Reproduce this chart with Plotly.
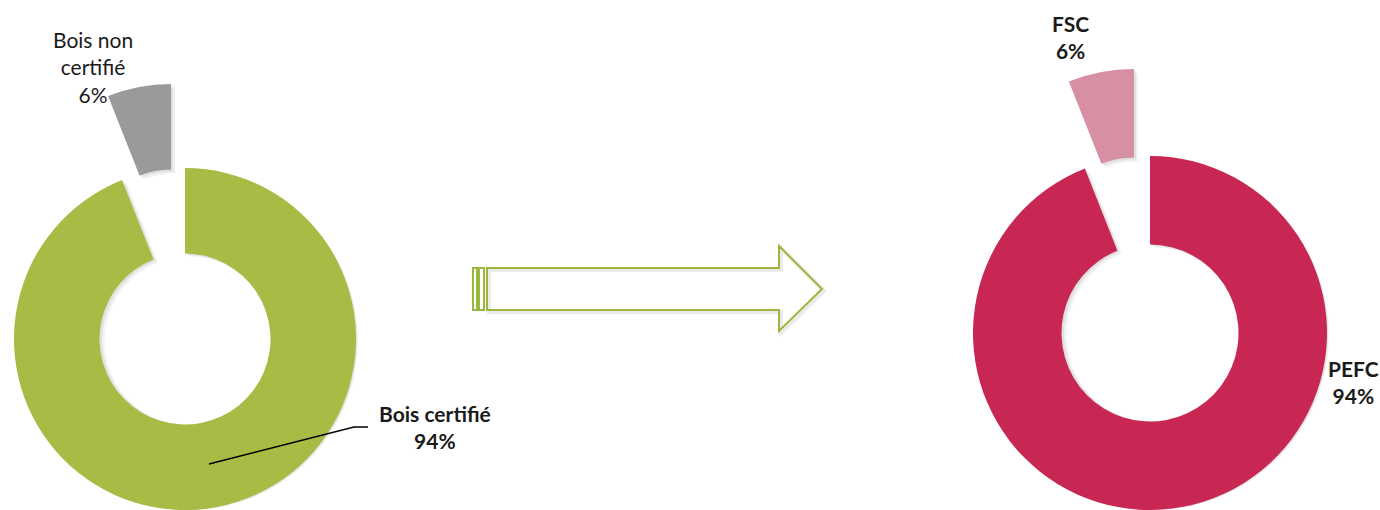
import plotly.graph_objects as go

# ---- data ----
left_labels = ["Bois certifié", "Bois non certifié"]
left_values = [94, 6]
left_colors = ["#A6BC44", "#9A9A9A"]

right_labels = ["PEFC", "FSC"]
right_values = [94, 6]
right_colors = ["#C82754", "#D68FA3"]

W, H = 1380, 510
TRANSP = "rgba(0,0,0,0)"


def dom(cx, cy, r):
    """pixel centre/radius -> paper domain"""
    x0 = max(0.0, (cx - r) / W)
    x1 = min(1.0, (cx + r) / W)
    y0 = max(0.0, 1 - (cy + r) / H)
    y1 = min(1.0, 1 - (cy - r) / H)
    return dict(x=[x0, x1], y=[y0, y1])


def donut(labels, values, colors, show, domain, name):
    cols = [c if i == show else TRANSP for i, c in enumerate(colors)]
    return go.Pie(
        labels=labels, values=values, marker=dict(colors=cols, line=dict(width=0)),
        hole=0.5, sort=False, direction="clockwise", rotation=0,
        textinfo="none", hoverinfo="label+percent", domain=domain,
        showlegend=False, name=name,
    )


def shadow(labels, values, show, domain, alpha):
    cols = ["rgba(0,0,0,%.2f)" % alpha if i == show else TRANSP for i in range(len(values))]
    return go.Pie(
        labels=labels, values=values, marker=dict(colors=cols, line=dict(width=0)),
        hole=0.5, sort=False, direction="clockwise", rotation=0,
        textinfo="none", hoverinfo="skip", domain=domain, showlegend=False,
    )


fig = go.Figure()
# left donut (soft shadow layers, then the slices)
for d, a in ((4, 0.05), (2, 0.07)):
    fig.add_trace(shadow(left_labels, left_values, 0, dom(185 + d, 339 + d, 171), a))
    fig.add_trace(shadow(left_labels, left_values, 1, dom(171 + d, 255 + d, 171), a))
fig.add_trace(donut(left_labels, left_values, left_colors, 0, dom(185, 339, 171), "gauche"))
fig.add_trace(donut(left_labels, left_values, left_colors, 1, dom(171, 255, 171), "gauche"))
# right donut
for d, a in ((4, 0.05), (2, 0.07)):
    fig.add_trace(shadow(right_labels, right_values, 0, dom(1150 + d, 333 + d, 177), a))
    fig.add_trace(shadow(right_labels, right_values, 1, dom(1134 + d, 246 + d, 177), a))
fig.add_trace(donut(right_labels, right_values, right_colors, 0, dom(1150, 333, 177), "droite"))
fig.add_trace(donut(right_labels, right_values, right_colors, 1, dom(1134, 246, 177), "droite"))


def px(x):
    return x / W


def py(y):
    return 1 - y / H


FONT = "Lato, 'Open Sans', sans-serif"
ann = []
ann.append(dict(x=px(93), y=py(67), text="Bois non<br>certifié<br>%d%%" % left_values[1],
                font=dict(family=FONT, size=21, color="#1a1a1a")))
ann.append(dict(x=px(435), y=py(427), text="<b>%s<br>%d%%</b>" % (left_labels[0], left_values[0]),
                font=dict(family=FONT, size=21, color="#1a1a1a")))
ann.append(dict(x=px(1070), y=py(37), text="<b>%s<br>%d%%</b>" % (right_labels[1], right_values[1]),
                font=dict(family=FONT, size=21, color="#1a1a1a")))
ann.append(dict(x=px(1353), y=py(382), text="<b>%s<br>%d%%</b>" % (right_labels[0], right_values[0]),
                font=dict(family=FONT, size=21, color="#1a1a1a")))
for a in ann:
    a.update(xref="paper", yref="paper", showarrow=False, xanchor="center", yanchor="middle")

shapes = []
# leader line for "Bois certifié"
shapes.append(dict(type="path", xref="paper", yref="paper",
                   path="M %f %f L %f %f L %f %f" % (px(209), py(464), px(354), py(427), px(368), py(427)),
                   line=dict(color="#000000", width=1.5)))

# outlined arrow
AC = "#9CB73E"
def pth(pts):
    return "M " + " L ".join("%f %f" % (px(a), py(b)) for a, b in pts) + " Z"

shadow_pts = [(489, 270), (781, 270), (781, 248), (824, 291), (781, 333), (781, 312), (489, 312)]
shapes.append(dict(type="path", xref="paper", yref="paper", path=pth(shadow_pts),
                   line=dict(color="rgba(0,0,0,0.08)", width=4)))
arrow_pts = [(487, 268), (779, 268), (779, 246), (822, 289), (779, 331), (779, 310), (487, 310)]
shapes.append(dict(type="path", xref="paper", yref="paper", path=pth(arrow_pts),
                   line=dict(color=AC, width=2)))
shapes.append(dict(type="rect", xref="paper", yref="paper",
                   x0=px(473), x1=px(477), y0=py(310), y1=py(268), line=dict(color=AC, width=2)))
shapes.append(dict(type="rect", xref="paper", yref="paper",
                   x0=px(479), x1=px(484), y0=py(310), y1=py(268), line=dict(color=AC, width=2)))

fig.update_layout(
    width=W, height=H, margin=dict(l=0, r=0, t=0, b=0),
    paper_bgcolor="white", plot_bgcolor="white",
    annotations=ann, shapes=shapes, showlegend=False,
)

fig.write_html(
    "out.html",
    config={"displayModeBar": False},
    post_script="document.body.style.margin='0';document.body.style.overflow='hidden';",
)
